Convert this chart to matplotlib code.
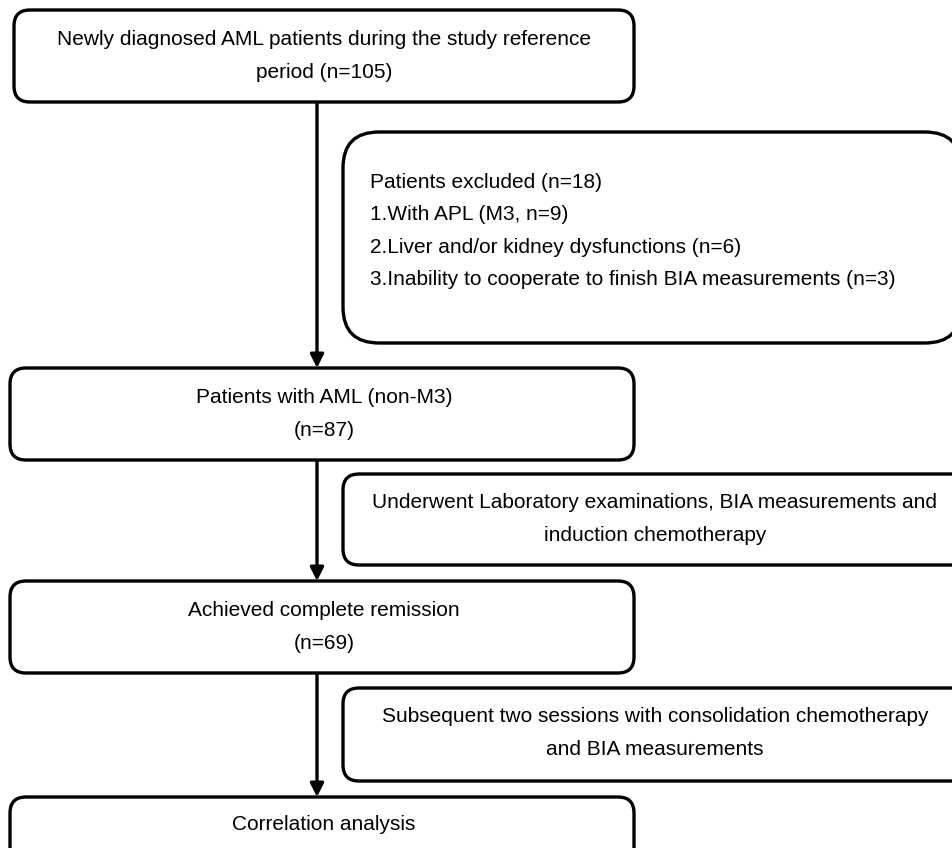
import matplotlib
matplotlib.use("Agg")
import matplotlib.pyplot as plt
from matplotlib.patches import FancyBboxPatch

plt.rcParams["font.family"] = ["Liberation Sans", "DejaVu Sans"]

main_texts = [
    "Newly diagnosed AML patients during the study reference\nperiod (n=105)",
    "Patients with AML (non-M3)\n(n=87)",
    "Achieved complete remission\n(n=69)",
    "Correlation analysis",
]
side_texts = [
    "Patients excluded (n=18)\n1.With APL (M3, n=9)\n2.Liver and/or kidney dysfunctions (n=6)\n"
    "3.Inability to cooperate to finish BIA measurements (n=3)",
    "Underwent Laboratory examinations, BIA measurements and\ninduction chemotherapy",
    "Subsequent two sessions with consolidation chemotherapy\nand BIA measurements",
]

# box geometry in pixels (x, y_top, w, h, corner radius)
main_boxes = [(14, 10, 620, 92, 16), (10, 368, 624, 92, 16),
              (10, 581, 624, 92, 16), (10, 797, 624, 70, 16)]
side_boxes = [(343, 132, 618, 211, 36), (343, 474, 625, 91, 16),
              (343, 688, 625, 93, 16)]

LW = 2.4
FS = 15
LS = 1.9

fig = plt.figure(figsize=(9.53, 8.48), dpi=100)
ax = fig.add_axes([0, 0, 1, 1])
ax.set_xlim(0, 953)
ax.set_ylim(848, 0)
ax.axis("off")


def draw_box(x, y, w, h, r):
    ax.add_patch(FancyBboxPatch((x, y), w, h,
                                boxstyle=f"round,pad=0,rounding_size={r}",
                                facecolor="white", edgecolor="black", lw=LW,
                                zorder=2))


for (x, y, w, h, r), txt in zip(main_boxes, main_texts):
    draw_box(x, y, w, h, r)
    ty = y + 46 if h > 80 else y + 28
    ax.text(324, ty, txt, ha="center", va="center", fontsize=FS,
            linespacing=LS, zorder=3)

for i, ((x, y, w, h, r), txt) in enumerate(zip(side_boxes, side_texts)):
    draw_box(x, y, w, h, r)
    if i == 0:
        ax.text(370, y + 99, txt, ha="left", va="center", fontsize=FS,
                linespacing=LS, zorder=3)
    else:
        ax.text(655, y + 45, txt, ha="center", va="center", fontsize=FS,
                linespacing=LS, zorder=3)

# connecting arrows between main boxes
for (x0, y0, w0, h0, _), (x1, y1, w1, h1, _) in zip(main_boxes[:-1], main_boxes[1:]):
    ax.annotate("", xy=(317, y1), xytext=(317, y0 + h0),
                arrowprops=dict(arrowstyle="-|>", lw=LW, color="black",
                                mutation_scale=20, shrinkA=0, shrinkB=0),
                zorder=1)

fig.savefig("out.png", dpi=100)
